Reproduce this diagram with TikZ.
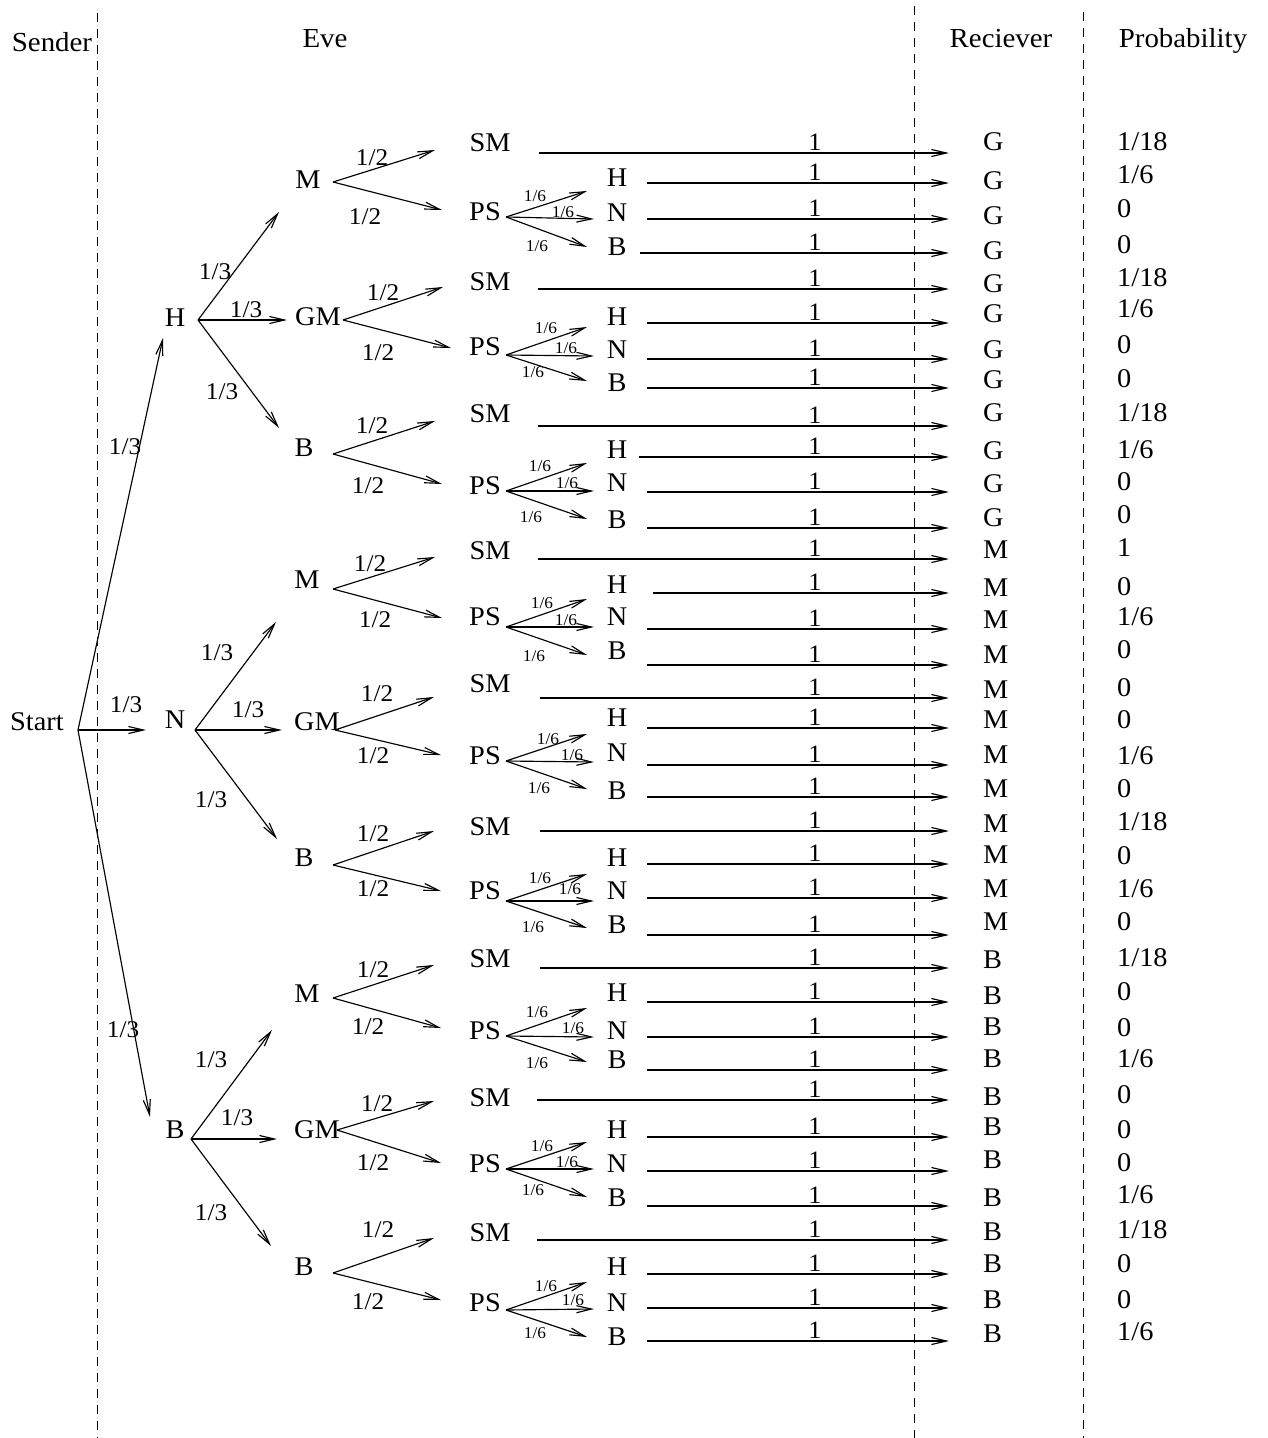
\documentclass[tikz,border=0pt]{standalone}
\usepackage{fontspec}
\setmainfont[FakeStretch=1.05]{Liberation Serif}
\usetikzlibrary{arrows.meta}
\begin{document}
\begin{tikzpicture}[x=1pt,y=-1pt,
  txt/.style={font=\fontsize{27}{31}\selectfont, inner sep=0pt},
  hdr/.style={font=\fontsize{27.5}{32}\selectfont, inner sep=0pt, anchor=base},
  lab/.style={font=\fontsize{24}{28}\selectfont, inner sep=0pt},
  sml/.style={font=\fontsize{16.5}{19}\selectfont, inner sep=0pt},
  one/.style={font=\fontsize{25}{29}\selectfont, inner sep=0pt, anchor=south},
  res/.style={font=\fontsize{27}{31}\selectfont, inner sep=0pt, anchor=west},
  arr/.style={-{Straight Barb[length=15pt,width=7pt]}, line width=1.15pt},
  sepline/.style={dash pattern=on 9pt off 7pt, line width=0.9pt}]
\useasboundingbox (0,0) rectangle (1267,1438);

% column separators
\coordinate (d1t) at (97,13);   \coordinate (d1b) at (97,1438);
\coordinate (d2t) at (914,6);   \coordinate (d2b) at (914,1438);
\coordinate (d3t) at (1083,12); \coordinate (d3b) at (1083,1438);
\draw[sepline] (d1t) -- (d1b);
\draw[sepline] (d2t) -- (d2b);
\draw[sepline] (d3t) -- (d3b);

% headers
\node[hdr] (hs) at (52,51) {Sender};
\node[hdr] (he) at (325,47) {Eve};
\node[hdr] (hr) at (1001,47) {Reciever};
\node[hdr] (hp) at (1183,47) {Probability};

% leaves, receivers, probabilities and the long arrows
\foreach \bk/\kk/\lt/\tx/\ty/\lsx/\lsy/\rt/\ry/\pv/\py in {
1/S/SM/490/143/539/153/G/142/{1/18}/142,
1/H/H/617/178/647/183/G/181/{1/6}/175,
1/N/N/617/213/647/219/G/216/0/209,
1/B/B/617/247/640/253/G/251/0/245,
2/S/SM/490/282/538/289/G/284/{1/18}/278,
2/H/H/617/317/647/323/G/314/{1/6}/309,
2/N/N/617/350/647/359/G/350/0/345,
2/B/B/617/383/647/388/G/380/0/379,
3/S/SM/490/414/538/426/G/413/{1/18}/413,
3/H/H/617/450/639/457/G/451/{1/6}/450,
3/N/N/617/483/647/492/G/484/0/482,
3/B/B/617/520/647/528/G/518/0/515,
4/S/SM/490/551/538/559/M/550/1/548,
4/H/H/617/585/653/593/M/588/0/587,
4/N/N/617/617/647/629/M/620/{1/6}/617,
4/B/B/617/651/647/665/M/655/0/650,
5/S/SM/490/684/540/698/M/690/0/688,
5/H/H/617/718/647/728/M/720/0/720,
5/N/N/617/753/647/765/M/755/{1/6}/756,
5/B/B/617/791/647/797/M/789/0/789,
6/S/SM/490/827/540/831/M/824/{1/18}/822,
6/H/H/617/858/647/864/M/855/0/856,
6/N/N/617/891/647/898/M/889/{1/6}/889,
6/B/B/617/925/647/935/M/922/0/922,
7/S/SM/490/959/540/968/B/960/{1/18}/958,
7/H/H/617/993/647/1002/B/996/0/992,
7/N/N/617/1031/647/1037/B/1027/0/1028,
7/B/B/617/1060/647/1070/B/1059/{1/6}/1059,
8/S/SM/490/1098/537/1100/B/1097/0/1095,
8/H/H/617/1130/647/1137/B/1127/0/1130,
8/N/N/617/1164/647/1171/B/1160/0/1163,
8/B/B/617/1198/647/1206/B/1198/{1/6}/1195,
9/S/SM/490/1233/537/1240/B/1232/{1/18}/1230,
9/H/H/617/1267/647/1274/B/1264/0/1264,
9/N/N/617/1303/647/1308/B/1300/0/1300,
9/B/B/617/1337/647/1341/B/1334/{1/6}/1332}{
  \node[txt] (l\bk\kk) at (\tx,\ty) {\lt};
  \node[res] (r\bk\kk) at (983,\ry) {\rt};
  \node[res] (p\bk\kk) at (1117,\py) {\pv};
  \node[one] (o\bk\kk) at (815,\lsy-2) {1};
  \draw[arr] ([shift={(\lsx-\tx,\lsy-\ty)}]l\bk\kk.center) -- ([shift={(949-983,\lsy-\ry)}]r\bk\kk.west);
}

% Eve's second level: M / GM / B  ->  SM / PS
\foreach \bk/\lt/\lx/\ly/\smy/\psy/\ox/\oy/\sex/\sey/\pex/\pey/\ax/\ay/\cx/\cy in {
1/M/308/180/143/212/333/182/435/150/442/210/372/158/365/217,
2/GM/318/317/282/347/343/320/443/287/451/348/383/293/378/353,
3/B/304/448/414/486/333/454/435/421/442/484/372/426/368/486,
4/M/307/580/551/617/333/589/435/557/442/618/370/564/375/620,
5/GM/317/722/684/756/335/730/434/697/441/755/377/694/373/756,
6/B/304/858/827/891/333/865/434/831/441/891/373/834/373/889,
7/M/307/994/959/1031/333/998/434/965/441/1028/373/970/368/1027,
8/GM/317/1130/1098/1164/337/1130/434/1101/441/1163/377/1104/373/1163,
9/B/304/1267/1233/1303/333/1273/434/1238/441/1300/378/1230/368/1302}{
  \node[txt] (m\bk) at (\lx,\ly) {\lt};
  \node[txt] (ps\bk) at (485,\psy) {PS};
  \draw[arr] ([shift={(\ox-\lx,\oy-\ly)}]m\bk.center) -- ([shift={(\sex-490,\sey-\smy)}]l\bk S.center);
  \draw[arr] ([shift={(\ox-\lx,\oy-\ly)}]m\bk.center) -- ([shift={(\pex-485,\pey-\psy)}]ps\bk.center);
  \node[lab] (ha\bk) at (\ax,\ay) {1/2};
  \node[lab] (hb\bk) at (\cx,\cy) {1/2};
}

% PS -> H / N / B
\foreach \bk/\psy/\hty/\nty/\bty/\oy/\hey/\ney/\bey/\ax/\ay/\nx/\nly/\cx/\cy in {
1/212/178/213/247/217/191/219/247/535/196/563/212/537/246,
2/347/317/350/383/355/327/356/381/546/328/566/348/533/372,
3/486/450/483/520/491/463/491/519/540/466/567/483/531/517,
4/617/585/617/651/627/599/627/655/542/603/566/620/534/656,
5/756/718/753/791/761/734/762/789/548/739/572/755/539/788,
6/891/858/891/925/901/874/901/928/540/878/570/889/533/927,
7/1031/993/1031/1060/1036/1008/1037/1062/537/1012/573/1028/537/1063,
8/1164/1130/1164/1198/1169/1142/1169/1197/542/1146/567/1162/533/1190,
9/1303/1267/1303/1337/1310/1282/1309/1337/546/1286/573/1300/535/1333}{
  \draw[arr] ([shift={(506-485,\oy-\psy)}]ps\bk.center) -- ([shift={(587-617,\hey-\hty)}]l\bk H.center);
  \draw[arr] ([shift={(506-485,\oy-\psy)}]ps\bk.center) -- ([shift={(594-617,\ney-\nty)}]l\bk N.center);
  \draw[arr] ([shift={(506-485,\oy-\psy)}]ps\bk.center) -- ([shift={(587-617,\bey-\bty)}]l\bk B.center);
  \node[sml] (sa\bk) at (\ax,\ay) {1/6};
  \node[sml] (sb\bk) at (\nx,\nly) {1/6};
  \node[sml] (sc\bk) at (\cx,\cy) {1/6};
}

% Sender
\node[txt] (st) at (37,722) {Start};
\node[txt] (sH) at (175,318) {H};
\node[txt] (sN) at (175,720) {N};
\node[txt] (sB) at (175,1130) {B};
\draw[arr] ([shift={(78-37,730-722)}]st.center) -- ([shift={(163-175,338-318)}]sH.center);
\draw[arr] ([shift={(78-37,730-722)}]st.center) -- ([shift={(146-175,730-720)}]sN.center);
\draw[arr] ([shift={(78-37,730-722)}]st.center) -- ([shift={(150-175,1117-1130)}]sB.center);
\node[lab] (q1) at (125,447) {1/3};
\node[lab] (q2) at (126,705) {1/3};
\node[lab] (q3) at (123,1030) {1/3};

% Eve's first level
\draw[arr] ([shift={(198-175,320-318)}]sH.center) -- ([shift={(279-308,212-180)}]m1.center);
\draw[arr] ([shift={(198-175,320-318)}]sH.center) -- ([shift={(287-318,320-317)}]m2.center);
\draw[arr] ([shift={(198-175,320-318)}]sH.center) -- ([shift={(279-304,428-448)}]m3.center);
\draw[arr] ([shift={(195-175,730-720)}]sN.center) -- ([shift={(276-307,622-580)}]m4.center);
\draw[arr] ([shift={(195-175,730-720)}]sN.center) -- ([shift={(282-317,730-722)}]m5.center);
\draw[arr] ([shift={(195-175,730-720)}]sN.center) -- ([shift={(277-304,839-858)}]m6.center);
\draw[arr] ([shift={(191-175,1139-1130)}]sB.center) -- ([shift={(272-307,1030-994)}]m7.center);
\draw[arr] ([shift={(191-175,1139-1130)}]sB.center) -- ([shift={(277-317,1139-1130)}]m8.center);
\draw[arr] ([shift={(191-175,1139-1130)}]sB.center) -- ([shift={(271-304,1246-1267)}]m9.center);
\node[lab] (g1) at (215,272) {1/3};
\node[lab] (g2) at (246,310) {1/3};
\node[lab] (g3) at (222,392) {1/3};
\node[lab] (g4) at (217,653) {1/3};
\node[lab] (g5) at (248,710) {1/3};
\node[lab] (g6) at (211,800) {1/3};
\node[lab] (g7) at (211,1060) {1/3};
\node[lab] (g8) at (237,1118) {1/3};
\node[lab] (g9) at (211,1213) {1/3};
\end{tikzpicture}
\end{document}
